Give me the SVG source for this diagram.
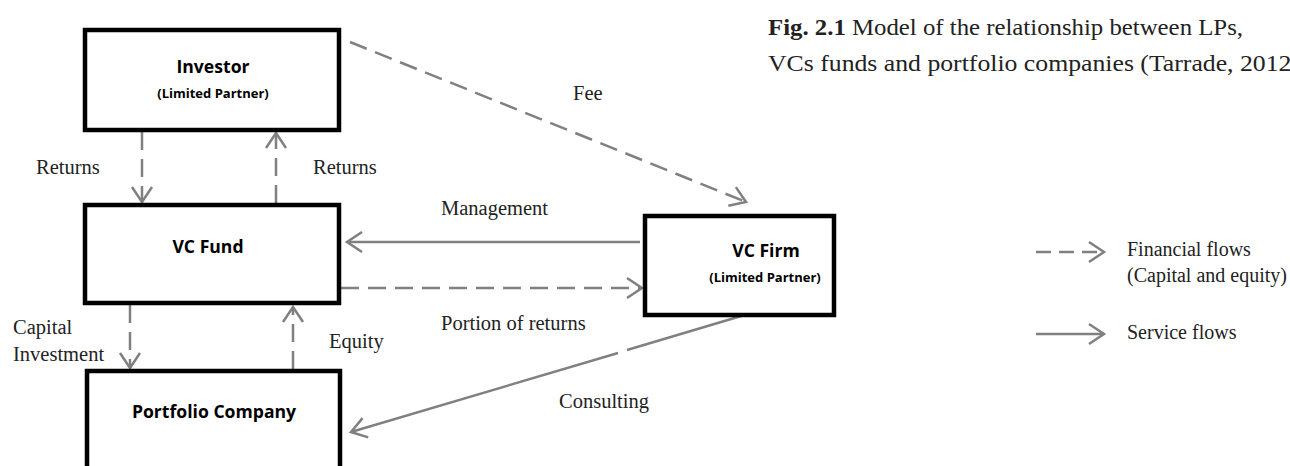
<svg xmlns="http://www.w3.org/2000/svg" width="1290" height="466" viewBox="0 0 1290 466">
<style>
.box{fill:#fff;stroke:#000;stroke-width:4.5}
.t1{font-family:"Open Sans","Liberation Sans",sans-serif;font-weight:bold;font-size:17.6px;text-anchor:middle;fill:#000}
.t2{font-family:"Open Sans","Liberation Sans",sans-serif;font-weight:bold;font-size:13px;text-anchor:middle;fill:#000}
.lbl{font-family:"Liberation Serif","DejaVu Serif",serif;font-size:20.5px;fill:#222}
.leg{font-family:"Liberation Serif","DejaVu Serif",serif;font-size:20px;fill:#222}
.ttl{font-family:"Liberation Serif","DejaVu Serif",serif;font-size:23px;fill:#222}
.fin{fill:none;stroke:#808080;stroke-width:2.5;stroke-dasharray:18 9;marker-end:url(#ah)}
.svc{fill:none;stroke:#808080;stroke-width:2.5;marker-end:url(#ah)}
</style>
<defs>
<marker id="ah" markerUnits="userSpaceOnUse" markerWidth="30" markerHeight="30" refX="0" refY="0" viewBox="-20 -15 30 30" orient="auto" overflow="visible">
<path d="M -15 -10 L 0 0 L -15 10" fill="none" stroke="#808080" stroke-width="2.5"/>
</marker>
</defs>
<rect width="1290" height="466" fill="#fff"/>
<g id="connectors">
<path class="fin" d="M 142 132 L 142 202"/>
<path class="fin" d="M 276 203 L 276 133"/>
<path class="fin" d="M 130 305 L 130 368"/>
<path class="fin" d="M 293 369 L 293 307"/>
<path class="fin" d="M 350 42 L 746 202"/>
<path class="svc" d="M 640 242 L 347 242"/>
<path class="fin" d="M 341 288 L 642 288"/>
<path class="svc" d="M 748 314 L 627 350 M 618 353 L 351 432"/>
</g>
<g id="investor">
<rect class="box" x="85" y="30" width="254" height="100"/>
<text class="t1" x="213" y="73">Investor</text>
<text class="t2" x="213" y="98">(Limited Partner)</text>
</g>
<g id="vcfund">
<rect class="box" x="85" y="205" width="254" height="98"/>
<text class="t1" x="208" y="253">VC Fund</text>
</g>
<g id="portfolio">
<rect class="box" x="87" y="371" width="253" height="110"/>
<text class="t1" x="214" y="418">Portfolio Company</text>
</g>
<g id="vcfirm">
<rect class="box" x="645" y="216" width="189" height="99"/>
<text class="t1" x="766" y="257">VC Firm</text>
<text class="t2" x="765" y="282">(Limited Partner)</text>
</g>
<g id="labels">
<text class="lbl" x="36" y="174">Returns</text>
<text class="lbl" x="313" y="174">Returns</text>
<text class="lbl" x="13" y="334">Capital</text>
<text class="lbl" x="13" y="361">Investment</text>
<text class="lbl" x="329" y="348">Equity</text>
<text class="lbl" x="573" y="100">Fee</text>
<text class="lbl" x="441" y="215">Management</text>
<text class="lbl" x="441" y="330">Portion of returns</text>
<text class="lbl" x="559" y="408">Consulting</text>
</g>
<g id="title">
<text class="ttl" x="768" y="35" textLength="475" lengthAdjust="spacingAndGlyphs"><tspan font-weight="bold">Fig. 2.1</tspan> Model of the relationship between LPs,</text>
<text class="ttl" x="768" y="71" textLength="532" lengthAdjust="spacingAndGlyphs">VCs funds and portfolio companies (Tarrade, 2012)</text>
</g>
<g id="legend">
<path d="M 1036 252 L 1104 252" fill="none" stroke="#808080" stroke-width="2.5" stroke-dasharray="15 8" marker-end="url(#ah)"/>
<path d="M 1036 334 L 1104 334" fill="none" stroke="#808080" stroke-width="2.5" marker-end="url(#ah)"/>
<text class="leg" x="1127" y="256">Financial flows</text>
<text class="leg" x="1127" y="282">(Capital and equity)</text>
<text class="leg" x="1127" y="339">Service flows</text>
</g>
</svg>
